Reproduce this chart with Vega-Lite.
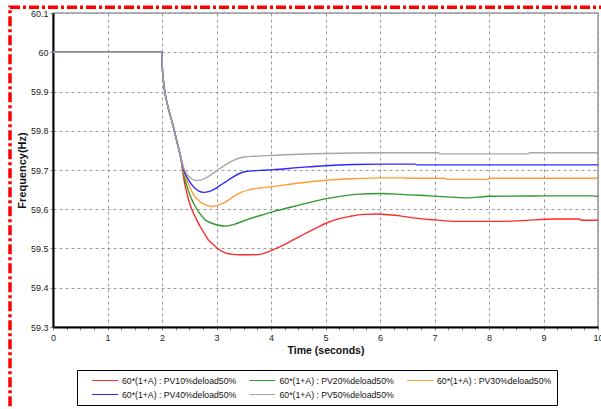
{
  "$schema": "https://vega.github.io/schema/vega-lite/v6.json",
  "width": 545,
  "height": 314,
  "autosize": {"type": "none"},
  "padding": {"left": 53, "top": 13, "right": 3, "bottom": 82},
  "background": "white",
  "resolve": {"axis": {"x": "independent", "y": "independent"}},
  "config": {
    "font": "Liberation Sans",
    "view": {"stroke": "#9a9a9a", "strokeWidth": 1.5},
    "axis": {
      "labelFont": "Liberation Sans",
      "labelFontSize": 9,
      "labelColor": "#222",
      "titleFont": "Liberation Sans",
      "titleFontWeight": "bold",
      "titleColor": "#111",
      "domainColor": "#000",
      "domainWidth": 2,
      "tickColor": "#888",
      "grid": true,
      "gridColor": "#9a9a9a",
      "gridDash": [3, 3],
      "gridWidth": 1
    },
    "legend": {
      "orient": "none",
      "legendX": 24,
      "legendY": 357,
      "columns": 3,
      "direction": "horizontal",
      "symbolType": "stroke",
      "symbolSize": 676,
      "symbolStrokeWidth": 1.2,
      "symbolOffset": 9,
      "clipHeight": 11,
      "labelOffset": 3,
      "labelFont": "Liberation Sans",
      "labelFontSize": 8.7,
      "labelColor": "#111",
      "labelLimit": 200,
      "columnPadding": 2.5,
      "rowPadding": 3,
      "padding": 5,
      "strokeColor": "#000",
      "fillColor": "#fff",
      "title": null
    }
  },
  "layer": [
    {
      "data": {
        "values": [
          {"s": "60*(1+A) : PV10%deload50%", "t": 0, "f": 60},
          {"s": "60*(1+A) : PV10%deload50%", "t": 2.0, "f": 60},
          {"s": "60*(1+A) : PV10%deload50%", "t": 2.005, "f": 59.965},
          {"s": "60*(1+A) : PV10%deload50%", "t": 2.02, "f": 59.935},
          {"s": "60*(1+A) : PV10%deload50%", "t": 2.04, "f": 59.91},
          {"s": "60*(1+A) : PV10%deload50%", "t": 2.07, "f": 59.885},
          {"s": "60*(1+A) : PV10%deload50%", "t": 2.12, "f": 59.855},
          {"s": "60*(1+A) : PV10%deload50%", "t": 2.2, "f": 59.815},
          {"s": "60*(1+A) : PV10%deload50%", "t": 2.26, "f": 59.78},
          {"s": "60*(1+A) : PV10%deload50%", "t": 2.31, "f": 59.752},
          {"s": "60*(1+A) : PV10%deload50%", "t": 2.35, "f": 59.725},
          {"s": "60*(1+A) : PV10%deload50%", "t": 2.4, "f": 59.678},
          {"s": "60*(1+A) : PV10%deload50%", "t": 2.48, "f": 59.628},
          {"s": "60*(1+A) : PV10%deload50%", "t": 2.54, "f": 59.602},
          {"s": "60*(1+A) : PV10%deload50%", "t": 2.62, "f": 59.578},
          {"s": "60*(1+A) : PV10%deload50%", "t": 2.7, "f": 59.556},
          {"s": "60*(1+A) : PV10%deload50%", "t": 2.78, "f": 59.538},
          {"s": "60*(1+A) : PV10%deload50%", "t": 2.85, "f": 59.522},
          {"s": "60*(1+A) : PV10%deload50%", "t": 2.94, "f": 59.51},
          {"s": "60*(1+A) : PV10%deload50%", "t": 3.02, "f": 59.5},
          {"s": "60*(1+A) : PV10%deload50%", "t": 3.16, "f": 59.489},
          {"s": "60*(1+A) : PV10%deload50%", "t": 3.3, "f": 59.485},
          {"s": "60*(1+A) : PV10%deload50%", "t": 3.43, "f": 59.484},
          {"s": "60*(1+A) : PV10%deload50%", "t": 3.6, "f": 59.484},
          {"s": "60*(1+A) : PV10%deload50%", "t": 3.8, "f": 59.485},
          {"s": "60*(1+A) : PV10%deload50%", "t": 3.92, "f": 59.49},
          {"s": "60*(1+A) : PV10%deload50%", "t": 4.04, "f": 59.497},
          {"s": "60*(1+A) : PV10%deload50%", "t": 4.3, "f": 59.514},
          {"s": "60*(1+A) : PV10%deload50%", "t": 4.53, "f": 59.531},
          {"s": "60*(1+A) : PV10%deload50%", "t": 4.8, "f": 59.55},
          {"s": "60*(1+A) : PV10%deload50%", "t": 5.02, "f": 59.565},
          {"s": "60*(1+A) : PV10%deload50%", "t": 5.25, "f": 59.576},
          {"s": "60*(1+A) : PV10%deload50%", "t": 5.45, "f": 59.582},
          {"s": "60*(1+A) : PV10%deload50%", "t": 5.7, "f": 59.587},
          {"s": "60*(1+A) : PV10%deload50%", "t": 5.94, "f": 59.588},
          {"s": "60*(1+A) : PV10%deload50%", "t": 6.15, "f": 59.586},
          {"s": "60*(1+A) : PV10%deload50%", "t": 6.37, "f": 59.583},
          {"s": "60*(1+A) : PV10%deload50%", "t": 6.6, "f": 59.578},
          {"s": "60*(1+A) : PV10%deload50%", "t": 7.0, "f": 59.573},
          {"s": "60*(1+A) : PV10%deload50%", "t": 7.4, "f": 59.569},
          {"s": "60*(1+A) : PV10%deload50%", "t": 8.15, "f": 59.569},
          {"s": "60*(1+A) : PV10%deload50%", "t": 8.6, "f": 59.571},
          {"s": "60*(1+A) : PV10%deload50%", "t": 9.2, "f": 59.575},
          {"s": "60*(1+A) : PV10%deload50%", "t": 9.65, "f": 59.575},
          {"s": "60*(1+A) : PV10%deload50%", "t": 9.7, "f": 59.572},
          {"s": "60*(1+A) : PV10%deload50%", "t": 10, "f": 59.572},

          {"s": "60*(1+A) : PV20%deload50%", "t": 0, "f": 60},
          {"s": "60*(1+A) : PV20%deload50%", "t": 2.0, "f": 60},
          {"s": "60*(1+A) : PV20%deload50%", "t": 2.005, "f": 59.965},
          {"s": "60*(1+A) : PV20%deload50%", "t": 2.02, "f": 59.935},
          {"s": "60*(1+A) : PV20%deload50%", "t": 2.04, "f": 59.91},
          {"s": "60*(1+A) : PV20%deload50%", "t": 2.07, "f": 59.885},
          {"s": "60*(1+A) : PV20%deload50%", "t": 2.12, "f": 59.855},
          {"s": "60*(1+A) : PV20%deload50%", "t": 2.2, "f": 59.815},
          {"s": "60*(1+A) : PV20%deload50%", "t": 2.26, "f": 59.78},
          {"s": "60*(1+A) : PV20%deload50%", "t": 2.31, "f": 59.752},
          {"s": "60*(1+A) : PV20%deload50%", "t": 2.35, "f": 59.727},
          {"s": "60*(1+A) : PV20%deload50%", "t": 2.4, "f": 59.688},
          {"s": "60*(1+A) : PV20%deload50%", "t": 2.45, "f": 59.662},
          {"s": "60*(1+A) : PV20%deload50%", "t": 2.53, "f": 59.63},
          {"s": "60*(1+A) : PV20%deload50%", "t": 2.61, "f": 59.607},
          {"s": "60*(1+A) : PV20%deload50%", "t": 2.7, "f": 59.588},
          {"s": "60*(1+A) : PV20%deload50%", "t": 2.79, "f": 59.573},
          {"s": "60*(1+A) : PV20%deload50%", "t": 2.9, "f": 59.565},
          {"s": "60*(1+A) : PV20%deload50%", "t": 3.02, "f": 59.56},
          {"s": "60*(1+A) : PV20%deload50%", "t": 3.16, "f": 59.557},
          {"s": "60*(1+A) : PV20%deload50%", "t": 3.31, "f": 59.561},
          {"s": "60*(1+A) : PV20%deload50%", "t": 3.55, "f": 59.573},
          {"s": "60*(1+A) : PV20%deload50%", "t": 3.8, "f": 59.584},
          {"s": "60*(1+A) : PV20%deload50%", "t": 4.04, "f": 59.594},
          {"s": "60*(1+A) : PV20%deload50%", "t": 4.53, "f": 59.611},
          {"s": "60*(1+A) : PV20%deload50%", "t": 5.02, "f": 59.627},
          {"s": "60*(1+A) : PV20%deload50%", "t": 5.57, "f": 59.638},
          {"s": "60*(1+A) : PV20%deload50%", "t": 6.0, "f": 59.64},
          {"s": "60*(1+A) : PV20%deload50%", "t": 6.4, "f": 59.638},
          {"s": "60*(1+A) : PV20%deload50%", "t": 6.9, "f": 59.634},
          {"s": "60*(1+A) : PV20%deload50%", "t": 7.3, "f": 59.631},
          {"s": "60*(1+A) : PV20%deload50%", "t": 7.6, "f": 59.629},
          {"s": "60*(1+A) : PV20%deload50%", "t": 7.9, "f": 59.632},
          {"s": "60*(1+A) : PV20%deload50%", "t": 8.0, "f": 59.633},
          {"s": "60*(1+A) : PV20%deload50%", "t": 9.0, "f": 59.634},
          {"s": "60*(1+A) : PV20%deload50%", "t": 9.9, "f": 59.634},
          {"s": "60*(1+A) : PV20%deload50%", "t": 10, "f": 59.632},

          {"s": "60*(1+A) : PV30%deload50%", "t": 0, "f": 60},
          {"s": "60*(1+A) : PV30%deload50%", "t": 2.0, "f": 60},
          {"s": "60*(1+A) : PV30%deload50%", "t": 2.005, "f": 59.965},
          {"s": "60*(1+A) : PV30%deload50%", "t": 2.02, "f": 59.935},
          {"s": "60*(1+A) : PV30%deload50%", "t": 2.04, "f": 59.91},
          {"s": "60*(1+A) : PV30%deload50%", "t": 2.07, "f": 59.885},
          {"s": "60*(1+A) : PV30%deload50%", "t": 2.12, "f": 59.855},
          {"s": "60*(1+A) : PV30%deload50%", "t": 2.2, "f": 59.815},
          {"s": "60*(1+A) : PV30%deload50%", "t": 2.26, "f": 59.78},
          {"s": "60*(1+A) : PV30%deload50%", "t": 2.31, "f": 59.752},
          {"s": "60*(1+A) : PV30%deload50%", "t": 2.35, "f": 59.728},
          {"s": "60*(1+A) : PV30%deload50%", "t": 2.4, "f": 59.695},
          {"s": "60*(1+A) : PV30%deload50%", "t": 2.48, "f": 59.666},
          {"s": "60*(1+A) : PV30%deload50%", "t": 2.58, "f": 59.637},
          {"s": "60*(1+A) : PV30%deload50%", "t": 2.68, "f": 59.621},
          {"s": "60*(1+A) : PV30%deload50%", "t": 2.8, "f": 59.611},
          {"s": "60*(1+A) : PV30%deload50%", "t": 2.91, "f": 59.607},
          {"s": "60*(1+A) : PV30%deload50%", "t": 3.02, "f": 59.61},
          {"s": "60*(1+A) : PV30%deload50%", "t": 3.16, "f": 59.618},
          {"s": "60*(1+A) : PV30%deload50%", "t": 3.31, "f": 59.632},
          {"s": "60*(1+A) : PV30%deload50%", "t": 3.45, "f": 59.643},
          {"s": "60*(1+A) : PV30%deload50%", "t": 3.61, "f": 59.65},
          {"s": "60*(1+A) : PV30%deload50%", "t": 3.8, "f": 59.654},
          {"s": "60*(1+A) : PV30%deload50%", "t": 4.04, "f": 59.658},
          {"s": "60*(1+A) : PV30%deload50%", "t": 4.53, "f": 59.667},
          {"s": "60*(1+A) : PV30%deload50%", "t": 5.02, "f": 59.674},
          {"s": "60*(1+A) : PV30%deload50%", "t": 5.57, "f": 59.678},
          {"s": "60*(1+A) : PV30%deload50%", "t": 6.0, "f": 59.68},
          {"s": "60*(1+A) : PV30%deload50%", "t": 6.43, "f": 59.68},
          {"s": "60*(1+A) : PV30%deload50%", "t": 6.5, "f": 59.679},
          {"s": "60*(1+A) : PV30%deload50%", "t": 7.19, "f": 59.679},
          {"s": "60*(1+A) : PV30%deload50%", "t": 7.22, "f": 59.676},
          {"s": "60*(1+A) : PV30%deload50%", "t": 7.98, "f": 59.676},
          {"s": "60*(1+A) : PV30%deload50%", "t": 8.0, "f": 59.679},
          {"s": "60*(1+A) : PV30%deload50%", "t": 10, "f": 59.679},

          {"s": "60*(1+A) : PV40%deload50%", "t": 0, "f": 60},
          {"s": "60*(1+A) : PV40%deload50%", "t": 2.0, "f": 60},
          {"s": "60*(1+A) : PV40%deload50%", "t": 2.005, "f": 59.965},
          {"s": "60*(1+A) : PV40%deload50%", "t": 2.02, "f": 59.935},
          {"s": "60*(1+A) : PV40%deload50%", "t": 2.04, "f": 59.91},
          {"s": "60*(1+A) : PV40%deload50%", "t": 2.07, "f": 59.885},
          {"s": "60*(1+A) : PV40%deload50%", "t": 2.12, "f": 59.855},
          {"s": "60*(1+A) : PV40%deload50%", "t": 2.2, "f": 59.815},
          {"s": "60*(1+A) : PV40%deload50%", "t": 2.26, "f": 59.78},
          {"s": "60*(1+A) : PV40%deload50%", "t": 2.31, "f": 59.752},
          {"s": "60*(1+A) : PV40%deload50%", "t": 2.35, "f": 59.729},
          {"s": "60*(1+A) : PV40%deload50%", "t": 2.4, "f": 59.70},
          {"s": "60*(1+A) : PV40%deload50%", "t": 2.48, "f": 59.676},
          {"s": "60*(1+A) : PV40%deload50%", "t": 2.58, "f": 59.657},
          {"s": "60*(1+A) : PV40%deload50%", "t": 2.67, "f": 59.647},
          {"s": "60*(1+A) : PV40%deload50%", "t": 2.76, "f": 59.643},
          {"s": "60*(1+A) : PV40%deload50%", "t": 2.86, "f": 59.645},
          {"s": "60*(1+A) : PV40%deload50%", "t": 2.96, "f": 59.651},
          {"s": "60*(1+A) : PV40%deload50%", "t": 3.06, "f": 59.66},
          {"s": "60*(1+A) : PV40%deload50%", "t": 3.16, "f": 59.669},
          {"s": "60*(1+A) : PV40%deload50%", "t": 3.3, "f": 59.682},
          {"s": "60*(1+A) : PV40%deload50%", "t": 3.5, "f": 59.695},
          {"s": "60*(1+A) : PV40%deload50%", "t": 3.8, "f": 59.699},
          {"s": "60*(1+A) : PV40%deload50%", "t": 4.04, "f": 59.701},
          {"s": "60*(1+A) : PV40%deload50%", "t": 4.5, "f": 59.706},
          {"s": "60*(1+A) : PV40%deload50%", "t": 5.0, "f": 59.711},
          {"s": "60*(1+A) : PV40%deload50%", "t": 5.5, "f": 59.714},
          {"s": "60*(1+A) : PV40%deload50%", "t": 6.0, "f": 59.715},
          {"s": "60*(1+A) : PV40%deload50%", "t": 6.64, "f": 59.715},
          {"s": "60*(1+A) : PV40%deload50%", "t": 6.68, "f": 59.713},
          {"s": "60*(1+A) : PV40%deload50%", "t": 10, "f": 59.713},

          {"s": "60*(1+A) : PV50%deload50%", "t": 0, "f": 60},
          {"s": "60*(1+A) : PV50%deload50%", "t": 2.0, "f": 60},
          {"s": "60*(1+A) : PV50%deload50%", "t": 2.005, "f": 59.965},
          {"s": "60*(1+A) : PV50%deload50%", "t": 2.02, "f": 59.935},
          {"s": "60*(1+A) : PV50%deload50%", "t": 2.04, "f": 59.91},
          {"s": "60*(1+A) : PV50%deload50%", "t": 2.07, "f": 59.885},
          {"s": "60*(1+A) : PV50%deload50%", "t": 2.12, "f": 59.855},
          {"s": "60*(1+A) : PV50%deload50%", "t": 2.2, "f": 59.815},
          {"s": "60*(1+A) : PV50%deload50%", "t": 2.26, "f": 59.78},
          {"s": "60*(1+A) : PV50%deload50%", "t": 2.31, "f": 59.752},
          {"s": "60*(1+A) : PV50%deload50%", "t": 2.35, "f": 59.73},
          {"s": "60*(1+A) : PV50%deload50%", "t": 2.4, "f": 59.705},
          {"s": "60*(1+A) : PV50%deload50%", "t": 2.46, "f": 59.689},
          {"s": "60*(1+A) : PV50%deload50%", "t": 2.55, "f": 59.677},
          {"s": "60*(1+A) : PV50%deload50%", "t": 2.64, "f": 59.673},
          {"s": "60*(1+A) : PV50%deload50%", "t": 2.73, "f": 59.675},
          {"s": "60*(1+A) : PV50%deload50%", "t": 2.82, "f": 59.681},
          {"s": "60*(1+A) : PV50%deload50%", "t": 2.92, "f": 59.69},
          {"s": "60*(1+A) : PV50%deload50%", "t": 3.02, "f": 59.70},
          {"s": "60*(1+A) : PV50%deload50%", "t": 3.15, "f": 59.712},
          {"s": "60*(1+A) : PV50%deload50%", "t": 3.3, "f": 59.724},
          {"s": "60*(1+A) : PV50%deload50%", "t": 3.5, "f": 59.733},
          {"s": "60*(1+A) : PV50%deload50%", "t": 3.7, "f": 59.735},
          {"s": "60*(1+A) : PV50%deload50%", "t": 4.0, "f": 59.737},
          {"s": "60*(1+A) : PV50%deload50%", "t": 5.0, "f": 59.742},
          {"s": "60*(1+A) : PV50%deload50%", "t": 6.0, "f": 59.744},
          {"s": "60*(1+A) : PV50%deload50%", "t": 7.07, "f": 59.744},
          {"s": "60*(1+A) : PV50%deload50%", "t": 7.1, "f": 59.741},
          {"s": "60*(1+A) : PV50%deload50%", "t": 8.7, "f": 59.741},
          {"s": "60*(1+A) : PV50%deload50%", "t": 8.75, "f": 59.744},
          {"s": "60*(1+A) : PV50%deload50%", "t": 10, "f": 59.744}
        ]
      },
      "mark": {"type": "line", "strokeWidth": 1.4, "interpolate": "monotone", "clip": true},
      "encoding": {
        "x": {
          "field": "t",
          "type": "quantitative",
          "scale": {"domain": [0, 10], "nice": false, "zero": false},
          "axis": {
            "title": "Time (seconds)",
            "titleFontSize": 10.5,
            "titlePadding": 3,
            "grid": true,
            "gridDash": [3, 3],
            "gridColor": "#9a9a9a",
            "values": [0, 0.25, 0.5, 0.75, 1, 1.25, 1.5, 1.75, 2, 2.25, 2.5, 2.75, 3, 3.25, 3.5, 3.75, 4, 4.25, 4.5, 4.75, 5, 5.25, 5.5, 5.75, 6, 6.25, 6.5, 6.75, 7, 7.25, 7.5, 7.75, 8, 8.25, 8.5, 8.75, 9, 9.25, 9.5, 9.75, 10],
            "format": "~g",
            "labelExpr": "datum.value % 1 === 0 ? datum.label : ''",
            "labelOverlap": false,
            "labelFlush": false,
            "tickSize": 3,
            "labelPadding": 3,
            "gridOpacity": {"condition": {"test": "datum.value % 1 === 0", "value": 1}, "value": 0}
          }
        },
        "y": {
          "field": "f",
          "type": "quantitative",
          "scale": {"domain": [59.3, 60.1], "nice": false, "zero": false},
          "axis": {
            "title": "Frequency(Hz)",
            "titleFontSize": 11,
            "titlePadding": 3,
            "grid": true,
            "gridDash": [3, 3],
            "gridColor": "#9a9a9a",
            "values": [59.3, 59.4, 59.5, 59.6, 59.7, 59.8, 59.9, 60, 60.1],
            "format": "~g",
            "labelOverlap": false,
            "tickSize": 3,
            "labelPadding": 2,
            "labelFlush": false
          }
        },
        "color": {
          "field": "s",
          "type": "nominal",
          "scale": {
            "domain": ["60*(1+A) : PV10%deload50%", "60*(1+A) : PV20%deload50%", "60*(1+A) : PV30%deload50%", "60*(1+A) : PV40%deload50%", "60*(1+A) : PV50%deload50%"],
            "range": ["#ff2a2a", "#2e9a2e", "#ff9c3a", "#2a2aff", "#a6a6a6"]
          },
          "legend": {"title": null}
        }
      }
    },
    {
      "data": {"values": [{"frame": "border"}]},
      "mark": {"type": "rect", "fill": null, "stroke": "#ff0000", "strokeWidth": 3.5, "strokeDash": [10, 3, 3, 3], "clip": false},
      "encoding": {
        "x": {"datum": -0.789, "type": "quantitative", "axis": null},
        "x2": {"datum": 10.4},
        "y": {"datum": 60.1148, "type": "quantitative", "axis": null},
        "y2": {"datum": 59.03}
      }
    }
  ]
}
